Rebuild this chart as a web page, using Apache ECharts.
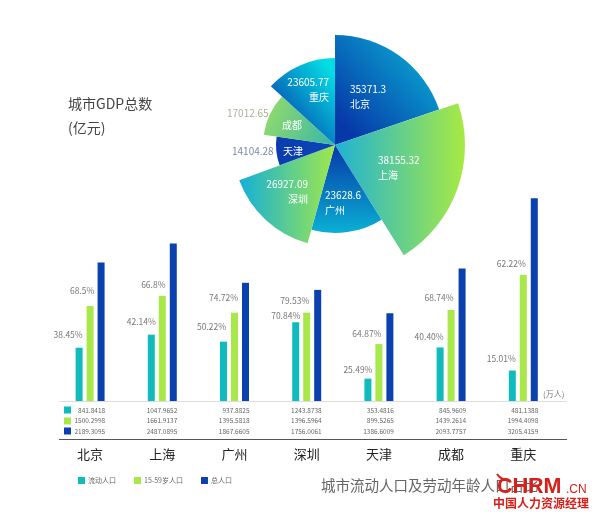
<!DOCTYPE html>
<html>
<head>
<meta charset="utf-8">
<title>城市GDP总数</title>
<script src="https://cdn.jsdelivr.net/npm/echarts@6/dist/echarts.min.js"></script>
<style>
  html, body { margin: 0; padding: 0; background: #fff; }
  #chart { width: 600px; height: 523px; }
</style>
</head>
<body>
<div id="chart"></div>
<script>
// 数据
var cities = ['北京', '上海', '广州', '深圳', '天津', '成都', '重庆'];
var gdpCities = ['北京', '上海', '广州', '深圳', '天津', '成都', '重庆'];
var gdpValues = [35371.3, 38155.32, 23628.6, 26927.09, 14104.28, 17012.65, 23605.77];
var migrantPop = [841.8418, 1047.9652, 937.8825, 1243.8738, 353.4816, 845.9609, 481.1388];
var workingPop = [1500.2998, 1661.9137, 1395.5818, 1396.5964, 899.5265, 1439.2614, 1994.4098];
var totalPop = [2189.3095, 2487.0895, 1867.6605, 1756.0061, 1386.6009, 2093.7757, 3205.4159];
var migrantShare = ['38.45%', '42.14%', '50.22%', '70.84%', '25.49%', '40.40%', '15.01%'];
var workingShare = ['68.5%', '66.8%', '74.72%', '79.53%', '64.87%', '68.74%', '62.22%'];

// 样式
var TEAL = '#10BBBE', GREEN = '#A9E84A', BLUE = '#0B41AE', LOGO_RED = '#D8201A';
var FONT = '"Noto Sans CJK SC", "Noto Sans", sans-serif';
var pieRadius = [110, 130, 88, 102, 59, 72, 87];
// x, y, 对齐方式
var pieLabelPos = [
  [350, 97, 'left'], [378, 168, 'left'], [325, 203, 'left'], [308, 192, 'right'],
  [232, 151, 'left'], [227, 119, 'left'], [329, 90, 'right']
];
var pieFill = [
  [0.1, 0.85, 0.9, 0.15, '#0638A8', '#0AA9D2'],
  [0, 0.5, 1, 0.5, '#1FB2D6', '#A8EA42'],
  [0.5, 0, 0.5, 1, '#0638A8', '#0AB0D4'],
  [0, 0.5, 1, 0.5, '#14AFD8', '#A0E84C'],
  [0, 0.5, 1, 0.5, '#0A3CAE', '#0C46B8'],
  [0, 0.2, 1, 0.8, '#96DC68', '#38B8A8'],
  [0, 0.8, 1, 0.2, '#0638A8', '#04DCE4']
];
// 百分比标签相对柱顶的位置
var migrantLabelShift = [[-11, 14], [-10, 14], [-12, 16], [-10, 7], [-10, 10], [-11, 11], [-11, 13]];
var workingLabelShift = [[-8, 16], [-9, 12], [-11, 16], [-12, 13], [-12, 11], [-12, 13], [-12, 12]];

function gradient(c) {
  return new echarts.graphic.LinearGradient(c[0], c[1], c[2], c[3], [
    { offset: 0, color: c[4] },
    { offset: 1, color: c[5] }
  ]);
}

// 每个城市一个饼图系列，半径不同，其余扇区透明
function pieSeries(index) {
  var name = gdpCities[index], value = gdpValues[index];
  var side = pieLabelPos[index][2];
  var labelText;
  var rich = {
    vl: { fontSize: 10, color: '#fff', align: 'left', lineHeight: 15, fontFamily: FONT },
    vr: { fontSize: 10, color: '#fff', align: 'right', lineHeight: 15, fontFamily: FONT },
    tv: { fontSize: 10, color: '#7C8AAA', align: 'left', width: 51, fontFamily: FONT },
    tn: { fontSize: 10, color: '#fff', align: 'right', width: 20, fontFamily: FONT },
    cv: { fontSize: 10, color: '#A9B394', align: 'left', width: 75, lineHeight: 12, fontFamily: FONT },
    cn: { fontSize: 10, color: '#fff', align: 'right', width: 75, lineHeight: 12, fontFamily: FONT }
  };
  if (name === '天津') {
    labelText = '{tv|' + value + '}{tn|' + name + '}';
  } else if (name === '成都') {
    labelText = '{cv|' + value + '}\n{cn|' + name + '}';
  } else {
    var key = side === 'left' ? 'vl' : 'vr';
    labelText = '{' + key + '|' + value + '}\n{' + key + '|' + name + '}';
  }
  return {
    type: 'pie',
    name: name,
    center: [335, 145],
    radius: [0, pieRadius[index]],
    startAngle: 90,
    clockwise: true,
    silent: true,
    avoidLabelOverlap: false,
    labelLine: { show: false },
    labelLayout: function () {
      return {
        x: pieLabelPos[index][0],
        y: pieLabelPos[index][1],
        align: side,
        verticalAlign: 'middle'
      };
    },
    data: gdpValues.map(function (v, i) {
      if (i !== index) {
        return { value: v, name: gdpCities[i], itemStyle: { color: 'transparent' }, label: { show: false } };
      }
      return {
        value: v,
        name: gdpCities[i],
        itemStyle: { color: gradient(pieFill[i]) },
        label: {
          show: true,
          position: 'inside',
          formatter: labelText,
          rich: rich
        }
      };
    })
  };
}

function shareLabel(texts, shifts) {
  return function (v, i) {
    return {
      value: v,
      label: {
        show: true,
        position: 'top',
        formatter: texts[i],
        fontSize: 8.5,
        color: '#777',
        fontFamily: FONT,
        offset: [shifts[i][0], 10 - shifts[i][1]]
      }
    };
  };
}

function hline(y, color) {
  return { type: 'line', shape: { x1: 59, y1: y, x2: 567, y2: y }, style: { stroke: color, lineWidth: 1 }, silent: true };
}
function swatch(y, color) {
  return { type: 'rect', shape: { x: 64, y: y - 3.5, width: 7, height: 7 }, style: { fill: color }, silent: true };
}
function text(x, y, str, size, color, extra) {
  var style = { x: x, y: y, text: str, fontSize: size, fill: color, fontFamily: FONT, verticalAlign: 'middle' };
  for (var k in extra) style[k] = extra[k];
  return { type: 'text', style: style, silent: true, z: 20 };
}

var option = {
  backgroundColor: '#fff',
  animation: false,
  title: {
    text: '城市GDP总数\n(亿元)',
    left: 68,
    top: 92,
    padding: 0,
    textStyle: { fontSize: 14, fontWeight: 'normal', color: '#444', lineHeight: 24, fontFamily: FONT }
  },
  legend: {
    left: 78,
    top: 477,
    padding: 0,
    itemWidth: 7,
    itemHeight: 7,
    itemGap: 18,
    icon: 'rect',
    data: ['流动人口', '15-59岁人口', '总人口'],
    textStyle: { fontSize: 7, color: '#666', padding: [0, 0, 0, -2], fontFamily: FONT }
  },
  grid: { left: 54, width: 505.4, top: 179.5, height: 221.5 },
  xAxis: {
    type: 'category',
    data: cities,
    axisLine: { show: false },
    axisTick: { show: false },
    axisLabel: {
      interval: 0,
      margin: 4,
      formatter: function (name, i) {
        return '{v|' + migrantPop[i].toFixed(4) + '}\n{v|' + workingPop[i].toFixed(4) + '}\n{v|' +
          totalPop[i].toFixed(4) + '}\n{c|' + name + '}';
      },
      rich: {
        v: { fontSize: 6.5, color: '#666', width: 30, align: 'right', lineHeight: 10.5, fontFamily: FONT },
        c: { fontSize: 13, color: '#222', width: 30, align: 'center', lineHeight: 35, fontFamily: FONT }
      }
    }
  },
  yAxis: { type: 'value', min: 0, max: 3500, show: false },
  series: [
    {
      type: 'bar', name: '流动人口', barWidth: 7, barGap: '57%', itemStyle: { color: TEAL },
      data: migrantPop.map(shareLabel(migrantShare, migrantLabelShift))
    },
    {
      type: 'bar', name: '15-59岁人口', barWidth: 7, barGap: '57%', itemStyle: { color: GREEN },
      data: workingPop.map(shareLabel(workingShare, workingLabelShift))
    },
    { type: 'bar', name: '总人口', barWidth: 7, barGap: '57%', itemStyle: { color: BLUE }, data: totalPop }
  ].concat(gdpValues.map(function (v, i) { return pieSeries(i); })),
  graphic: [
    hline(401.5, '#DDD'),
    hline(439.5, '#555'),
    swatch(410, TEAL),
    swatch(421, GREEN),
    swatch(431, BLUE),
    text(543, 394, '(万人)', 8, '#777'),
    text(321, 485, '城市流动人口及劳动年龄人口占比', 14.5, '#666'),
    // 水印
    text(497, 487.5, 'CHRM', 21.5, LOGO_RED, { fontWeight: 'bold', fontFamily: '"Liberation Sans", sans-serif' }),
    {
      type: 'bezierCurve',
      shape: { x1: 497, y1: 474, cpx1: 500, cpy1: 479, cpx2: 505, cpy2: 480, x2: 510, y2: 481 },
      style: { stroke: LOGO_RED, lineWidth: 2, fill: 'none' },
      silent: true,
      z: 20
    },
    text(566, 490, '.CN', 12, LOGO_RED, { fontFamily: '"Liberation Sans", sans-serif' }),
    text(493, 503, '中国人力资源经理', 12, LOGO_RED, { fontWeight: 'bold' })
  ]
};

var chart = echarts.init(document.getElementById('chart'));
chart.setOption(option);
</script>
</body>
</html>
